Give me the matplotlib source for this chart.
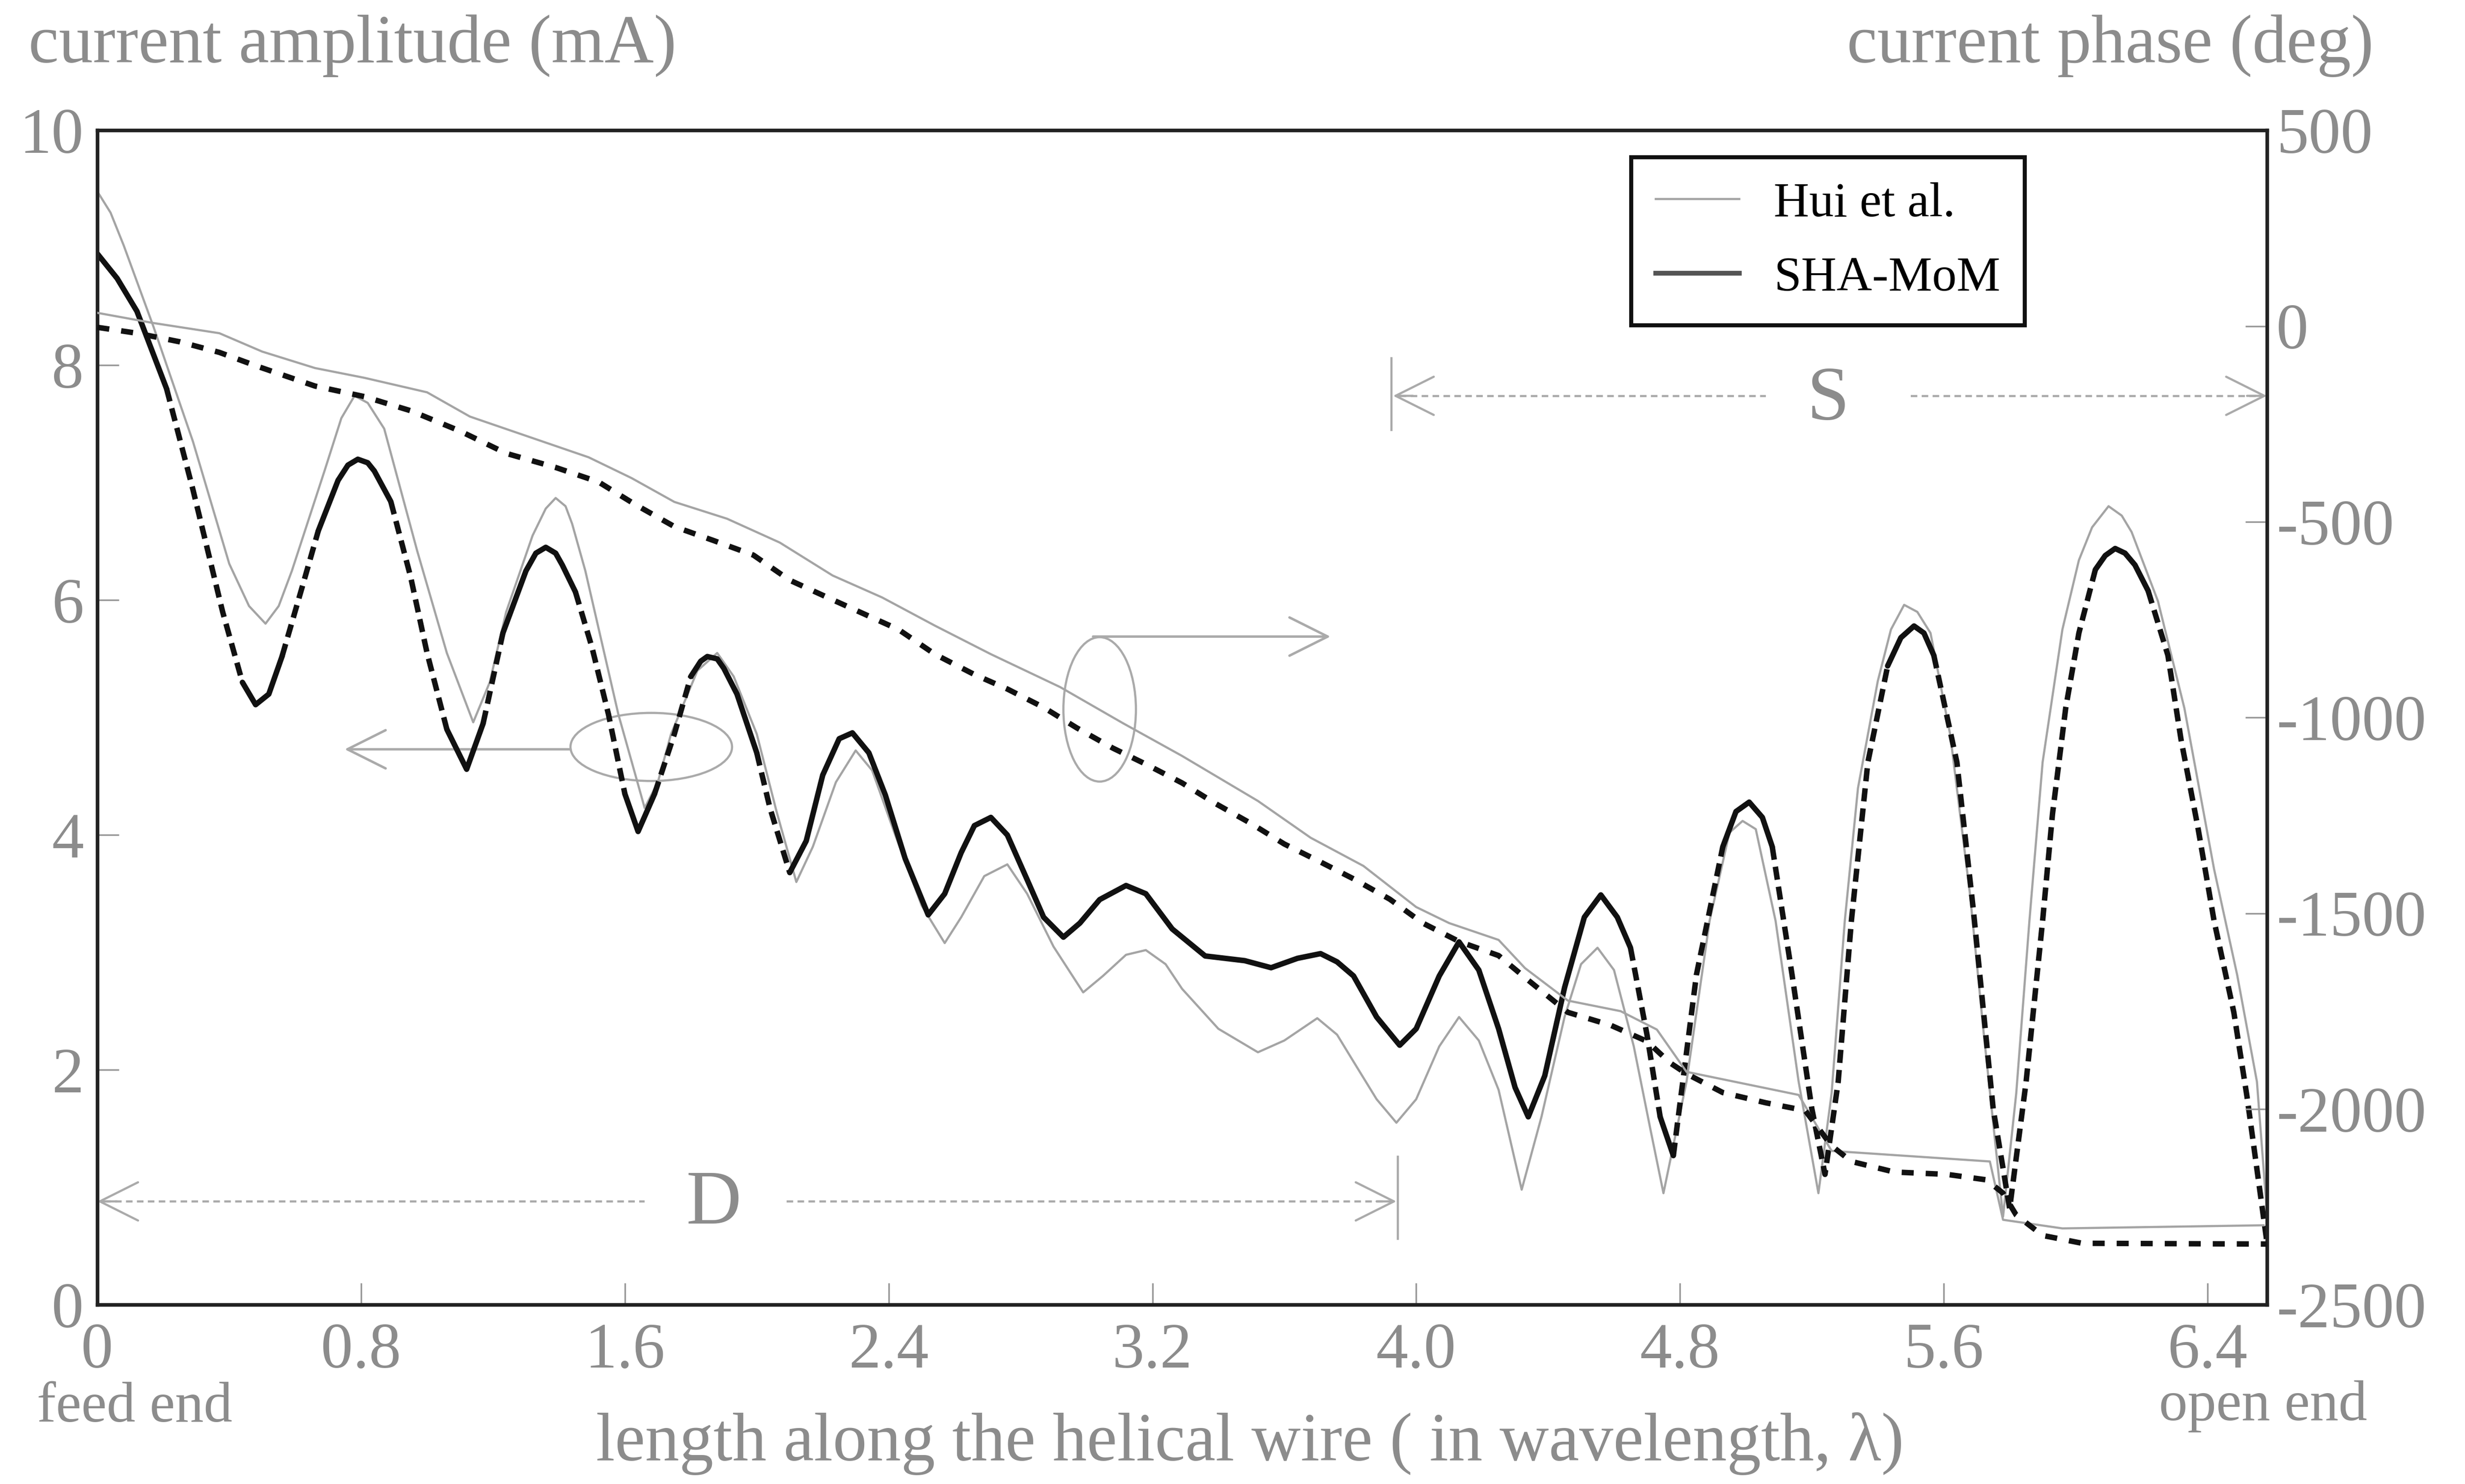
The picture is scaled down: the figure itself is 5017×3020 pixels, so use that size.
import numpy as np
import matplotlib
matplotlib.use("Agg")
import matplotlib.pyplot as plt
from matplotlib.patches import Ellipse
from matplotlib.lines import Line2D

plt.rcParams['font.family'] = ['Liberation Serif', 'DejaVu Serif']
plt.rcParams['axes.unicode_minus'] = False

# length along the wire (wavelengths) and current amplitude (mA)
sha_x = [0.00, 0.06, 0.12, 0.21, 0.29, 0.38, 0.44, 0.48, 0.52, 0.56, 0.62, 0.67, 0.73, 0.76,
         0.79, 0.82, 0.84, 0.89, 0.95, 1.00, 1.06, 1.12, 1.17, 1.23, 1.30, 1.33, 1.36, 1.39,
         1.41, 1.45, 1.50, 1.55, 1.60, 1.64, 1.69, 1.75, 1.80, 1.83, 1.85, 1.88, 1.90, 1.94,
         2.00, 2.04, 2.10, 2.15, 2.20, 2.25, 2.29, 2.34, 2.39, 2.45, 2.52, 2.57, 2.62, 2.66,
         2.71, 2.76, 2.82, 2.87, 2.93, 2.98, 3.04, 3.12, 3.18, 3.26, 3.36, 3.48, 3.56, 3.64,
         3.71, 3.76, 3.81, 3.88, 3.95, 4.00, 4.07, 4.13, 4.19, 4.25, 4.30, 4.34, 4.39, 4.45,
         4.51, 4.56, 4.61, 4.65, 4.70, 4.74, 4.78, 4.85, 4.93, 4.97, 5.01, 5.05, 5.08, 5.14,
         5.20, 5.24, 5.28, 5.32, 5.37, 5.43, 5.47, 5.51, 5.54, 5.57, 5.64, 5.69, 5.75, 5.80,
         5.85, 5.90, 5.93, 5.97, 6.01, 6.06, 6.09, 6.12, 6.15, 6.18, 6.22, 6.28, 6.32, 6.37,
         6.42, 6.48, 6.52, 6.58]
sha_amp = [8.95, 8.74, 8.46, 7.80, 6.94, 5.90, 5.30, 5.11, 5.20, 5.52, 6.10, 6.59, 7.02, 7.15,
           7.20, 7.17, 7.10, 6.84, 6.20, 5.55, 4.90, 4.56, 4.95, 5.72, 6.25, 6.40, 6.45, 6.40,
           6.30, 6.07, 5.60, 5.03, 4.35, 4.03, 4.35, 4.86, 5.35, 5.48, 5.52, 5.50, 5.42, 5.20,
           4.70, 4.23, 3.68, 3.95, 4.51, 4.82, 4.87, 4.70, 4.34, 3.80, 3.32, 3.50, 3.85, 4.08,
           4.15, 4.00, 3.62, 3.30, 3.13, 3.25, 3.45, 3.57, 3.50, 3.20, 2.97, 2.93, 2.87, 2.95,
           2.99, 2.92, 2.80, 2.45, 2.21, 2.35, 2.80, 3.09, 2.85, 2.35, 1.85, 1.60, 1.95, 2.70,
           3.30, 3.49, 3.30, 3.04, 2.30, 1.60, 1.27, 2.81, 3.90, 4.20, 4.28, 4.15, 3.90, 2.81,
           1.67, 1.11, 1.90, 3.27, 4.62, 5.44, 5.68, 5.78, 5.72, 5.53, 4.62, 3.36, 1.67, 0.82,
           1.90, 3.27, 4.18, 5.08, 5.72, 6.26, 6.38, 6.44, 6.40, 6.30, 6.08, 5.53, 4.81, 4.08,
           3.27, 2.49, 1.77, 0.54]

hui_x = [0.00, 0.04, 0.08, 0.17, 0.29, 0.40, 0.46, 0.51, 0.55, 0.59, 0.69, 0.74, 0.78, 0.82,
         0.87, 0.97, 1.06, 1.14, 1.19, 1.24, 1.32, 1.36, 1.39, 1.42, 1.44, 1.48, 1.58, 1.66,
         1.70, 1.74, 1.82, 1.88, 1.93, 2.00, 2.06, 2.12, 2.17, 2.24, 2.30, 2.35, 2.42, 2.50,
         2.57, 2.62, 2.69, 2.76, 2.82, 2.90, 2.99, 3.05, 3.12, 3.18, 3.24, 3.29, 3.40, 3.52,
         3.60, 3.70, 3.76, 3.81, 3.88, 3.94, 4.00, 4.07, 4.13, 4.19, 4.25, 4.32, 4.38, 4.45,
         4.50, 4.55, 4.60, 4.66, 4.71, 4.75, 4.82, 4.89, 4.95, 4.99, 5.03, 5.09, 5.16, 5.22,
         5.26, 5.30, 5.34, 5.40, 5.44, 5.48, 5.52, 5.56, 5.62, 5.68, 5.72, 5.78, 5.82, 5.86,
         5.90, 5.96, 6.01, 6.05, 6.10, 6.14, 6.17, 6.25, 6.33, 6.42, 6.49, 6.55, 6.58]
hui_amp = [9.48, 9.30, 9.02, 8.33, 7.35, 6.31, 5.95, 5.80, 5.95, 6.25, 7.11, 7.55, 7.74, 7.68,
           7.46, 6.42, 5.55, 4.96, 5.30, 5.90, 6.55, 6.78, 6.87, 6.80, 6.65, 6.25, 5.03, 4.23,
           4.45, 4.86, 5.40, 5.55, 5.35, 4.86, 4.20, 3.60, 3.90, 4.45, 4.72, 4.55, 4.00, 3.40,
           3.08, 3.30, 3.65, 3.75, 3.50, 3.05, 2.66, 2.80, 2.98, 3.02, 2.90, 2.69, 2.35, 2.15,
           2.25, 2.44, 2.30, 2.07, 1.75, 1.55, 1.75, 2.20, 2.45, 2.25, 1.83, 0.98, 1.60, 2.45,
           2.90, 3.04, 2.85, 2.20, 1.50, 0.95, 1.90, 3.27, 4.02, 4.12, 4.05, 3.27, 1.90, 0.95,
           1.80, 3.27, 4.40, 5.31, 5.75, 5.96, 5.90, 5.72, 4.85, 3.49, 2.35, 0.75, 1.80, 3.27,
           4.62, 5.75, 6.34, 6.62, 6.80, 6.72, 6.58, 5.99, 5.08, 3.71, 2.81, 1.90, 0.80]

# current phase (deg)
sha_ph_x = [0.00, 0.12, 0.25, 0.37, 0.48, 0.66, 0.81, 0.95, 1.10, 1.24, 1.39, 1.52, 1.63, 1.75,
            1.87, 1.99, 2.10, 2.23, 2.43, 2.54, 2.66, 2.76, 2.87, 2.97, 3.08, 3.18, 3.29, 3.39,
            3.50, 3.60, 3.71, 3.81, 3.92, 4.02, 4.13, 4.25, 4.34, 4.46, 4.59, 4.70, 4.77, 4.82,
            4.93, 5.06, 5.18, 5.26, 5.32, 5.45, 5.61, 5.73, 5.78, 5.82, 5.90, 6.02, 6.58]
sha_phase = [-3, -18, -40, -67, -101, -153, -180, -216, -268, -325, -361, -398, -455, -512,
             -548, -585, -649, -699, -775, -838, -890, -927, -974, -1026, -1078, -1119, -1167, -1219,
             -1271, -1323, -1369, -1412, -1464, -1525, -1572, -1608, -1671, -1753, -1786, -1827, -1882, -1910,
             -1958, -1984, -2004, -2094, -2134, -2161, -2167, -2181, -2215, -2271, -2323, -2343, -2345]

hui_ph_x = [0.00, 0.17, 0.37, 0.50, 0.66, 0.81, 1.00, 1.13, 1.31, 1.49, 1.62, 1.75, 1.91, 2.07,
            2.23, 2.38, 2.54, 2.71, 2.92, 3.11, 3.29, 3.52, 3.68, 3.84, 4.00, 4.10, 4.25, 4.33,
            4.46, 4.62, 4.73, 4.82, 5.16, 5.26, 5.74, 5.78, 5.96, 6.57]
hui_phase = [34, 8, -18, -65, -107, -132, -169, -231, -283, -335, -388, -449, -492, -553,
             -637, -693, -765, -838, -922, -1014, -1098, -1213, -1307, -1379, -1484, -1525, -1568, -1640,
             -1723, -1750, -1797, -1905, -1964, -2107, -2134, -2283, -2305, -2297]

x_ticks = [0, 0.8, 1.6, 2.4, 3.2, 4.0, 4.8, 5.6, 6.4]
x_tick_labels = ['0', '0.8', '1.6', '2.4', '3.2', '4.0', '4.8', '5.6', '6.4']
amp_ticks = [0, 2, 4, 6, 8, 10]
phase_ticks = [-2500, -2000, -1500, -1000, -500, 0, 500]

GRAY_TXT = '#8c8c8c'
GRAY_LN = '#a4a4a4'
BLACK = '#111111'


def plot_scanned(ax, x, y, k=0.356, thresh=3.0, solid_zone=(2.10, 4.56)):
    # steep flanks of the printed curve come out dashed, flat parts solid
    x = np.asarray(x)
    y = np.asarray(y)
    slope = np.abs(np.diff(y) / np.diff(x)) * k
    mid = 0.5 * (x[1:] + x[:-1])
    dashed = (slope > thresh) & ~((mid > solid_zone[0]) & (mid < solid_zone[1]))
    start = 0
    for i in range(1, len(dashed) + 1):
        if i == len(dashed) or dashed[i] != dashed[start]:
            ls = (0, (2.4, 1.3)) if dashed[start] else '-'
            ax.plot(x[start:i + 1], y[start:i + 1], color=BLACK, lw=4,
                    linestyle=ls, solid_capstyle='round', solid_joinstyle='round',
                    zorder=4)
            start = i


fig = plt.figure(figsize=(25.085, 15.1), dpi=200)
ax = fig.add_axes([0.0395, 0.1208, 0.8801, 0.7913])
ax2 = ax.twinx()

ax.plot(hui_x, hui_amp, color=GRAY_LN, lw=1.6, zorder=3, solid_joinstyle='round')
plot_scanned(ax, sha_x, sha_amp)

ax2.plot(hui_ph_x, hui_phase, color=GRAY_LN, lw=1.6, zorder=3)
ax2.plot(sha_ph_x, sha_phase, color=BLACK, lw=4, linestyle=(0, (2.2, 2.2)), zorder=4)

ax.set_xlim(0, 6.58)
ax.set_ylim(0, 10)
ax2.set_ylim(-2500, 500)

ax.set_xticks(x_ticks)
ax.set_xticklabels(x_tick_labels)
ax.set_yticks(amp_ticks)
ax2.set_yticks(phase_ticks)

for a in (ax, ax2):
    a.tick_params(direction='in', length=16, width=1.2, color='#999999',
                  labelcolor=GRAY_TXT, labelsize=47)
    for s in a.spines.values():
        s.set_linewidth(2.6)
        s.set_color('#222222')
ax.tick_params(axis='x', pad=13)
ax.tick_params(axis='y', pad=10)
ax2.tick_params(axis='y', pad=7)

# legend
handles = [Line2D([], [], color=GRAY_LN, lw=1.6),
           Line2D([], [], color='#555555', lw=3.5)]
leg = ax2.legend(handles, ['Hui et al.', 'SHA-MoM'], loc='upper left',
                 bbox_to_anchor=(0.707, 0.977), fontsize=36, handlelength=1.7,
                 handletextpad=0.7, labelspacing=0.6, borderpad=0.5,
                 fancybox=False, framealpha=1, borderaxespad=0)
leg.get_frame().set_edgecolor('#111111')
leg.get_frame().set_linewidth(3)

# D and S spans
ann = dict(color='#aaaaaa', lw=1.6)
head = dict(arrowstyle='->', color='#aaaaaa', lw=1.6, mutation_scale=70, shrinkA=0, shrinkB=0)
ax.plot([0.02, 1.66], [0.88, 0.88], linestyle=(0, (3, 2)), **ann)
ax.plot([2.09, 3.92], [0.88, 0.88], linestyle=(0, (3, 2)), **ann)
ax.plot([3.945, 3.945], [0.56, 1.26], **ann)
ax.annotate('', xy=(0.0, 0.88), xytext=(0.06, 0.88), arrowprops=head)
ax.annotate('', xy=(3.94, 0.88), xytext=(3.88, 0.88), arrowprops=head)
ax.text(1.87, 0.85, 'D', ha='center', va='center', fontsize=56, color=GRAY_TXT)

ax.plot([3.95, 5.06], [7.74, 7.74], linestyle=(0, (3, 2)), **ann)
ax.plot([5.50, 6.56], [7.74, 7.74], linestyle=(0, (3, 2)), **ann)
ax.plot([3.925, 3.925], [7.45, 8.06], **ann)
ax.annotate('', xy=(3.93, 7.74), xytext=(3.99, 7.74), arrowprops=head)
ax.annotate('', xy=(6.58, 7.74), xytext=(6.52, 7.74), arrowprops=head)
ax.text(5.25, 7.70, 'S', ha='center', va='center', fontsize=56, color=GRAY_TXT)

# pointers: amplitude -> left axis, phase -> right axis
ax.add_patch(Ellipse((1.68, 4.75), 0.49, 0.58, fill=False, ec='#aaaaaa', lw=1.6))
ax.annotate('', xy=(0.75, 4.73), xytext=(1.435, 4.73),
            arrowprops=dict(head, lw=1.8))
ax.add_patch(Ellipse((3.04, 5.07), 0.22, 1.23, fill=False, ec='#aaaaaa', lw=1.6))
ax.annotate('', xy=(3.74, 5.69), xytext=(3.02, 5.69),
            arrowprops=dict(head, lw=1.8))

# axis captions
fig.text(0.0115, 0.958, 'current amplitude (mA)', ha='left', va='baseline',
         fontsize=50, color=GRAY_TXT)
fig.text(0.963, 0.958, 'current phase (deg)', ha='right', va='baseline',
         fontsize=50, color=GRAY_TXT)
fig.text(0.507, 0.016, 'length along the helical wire ( in wavelength, \u03bb)',
         ha='center', va='baseline', fontsize=50, color=GRAY_TXT)
fig.text(0.0547, 0.042, 'feed end', ha='center', va='baseline', fontsize=42, color=GRAY_TXT)
fig.text(0.918, 0.043, 'open end', ha='center', va='baseline', fontsize=42, color=GRAY_TXT)

fig.savefig('out.png', dpi=200, facecolor='white')
